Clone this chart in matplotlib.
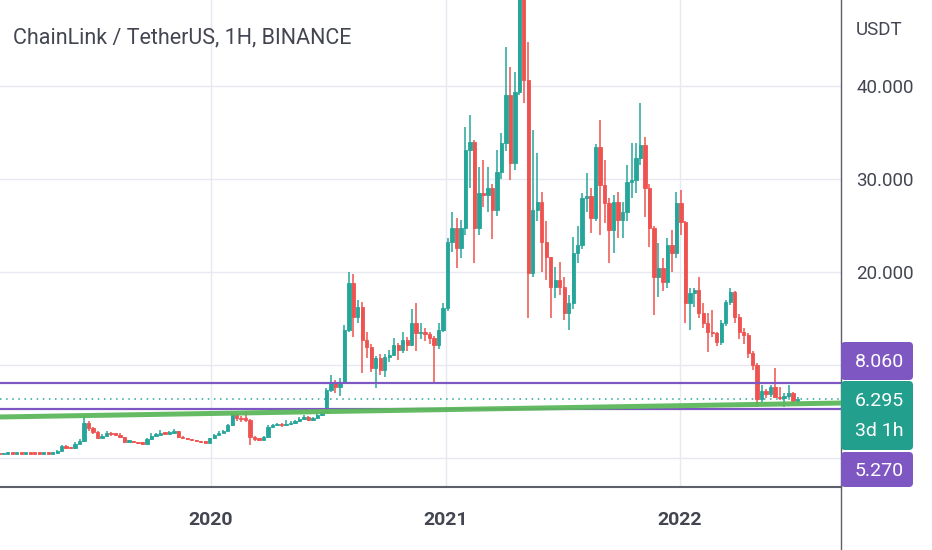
import numpy as np
import pandas as pd
import matplotlib
matplotlib.use("Agg")
import matplotlib.pyplot as plt
import matplotlib.dates as mdates
from matplotlib.patches import FancyBboxPatch
from datetime import datetime

# weekly LINK/USDT candles (open = previous close)
first_open = 0.45
closes = [0.42, 0.46, 0.48, 0.45, 0.49, 0.47, 0.51, 0.48, 0.46, 0.45, 0.48, 0.47,
          0.56, 0.80, 1.25, 1.10, 1.05, 1.55, 1.85, 3.80, 3.20, 2.80, 2.20, 2.40,
          2.70, 2.55, 2.50, 2.25, 1.75, 1.80, 1.68, 1.62, 1.55, 2.00, 2.40, 2.50,
          2.70, 2.62, 2.72, 2.88, 2.30, 2.12, 2.00, 1.92, 1.82, 1.72, 1.66, 2.10,
          2.50, 2.70, 2.90, 3.50, 4.75, 4.30, 4.20, 4.10, 2.25, 2.00, 1.95, 2.25,
          3.30, 3.50, 3.62, 3.50, 3.65, 3.75, 3.95, 4.20, 4.40, 4.10, 4.30, 4.65,
          4.90, 7.30, 8.10, 7.60, 8.20, 13.8, 18.8, 15.2, 16.2, 12.7, 11.9, 9.7,
          10.7, 9.5, 10.9, 11.1, 12.2, 11.6, 12.7, 12.2, 14.5, 13.4, 13.6, 13.3,
          12.9, 12.2, 13.8, 16.1, 23.2, 24.7, 22.6, 24.7, 33.1, 34.0, 24.7, 28.5,
          28.3, 29.0, 26.7, 30.8, 33.9, 39.0, 31.7, 39.4, 50.5, 40.6, 19.9, 26.7,
          27.5, 23.2, 21.6, 18.4, 19.1, 18.4, 15.6, 16.7, 22.0, 22.9, 28.0, 28.2,
          25.8, 33.4, 29.4, 27.4, 24.5, 27.5, 25.6, 26.5, 29.7, 29.9, 32.3, 33.7,
          29.0, 24.7, 19.5, 20.4, 18.9, 22.9, 22.0, 27.4, 25.4, 16.7, 17.7, 18.1,
          15.6, 14.5, 13.6, 13.4, 12.5, 14.5, 16.8, 17.8, 15.2, 13.5, 13.2, 11.3,
          10.0, 6.3, 7.2, 6.9, 7.6, 6.6, 6.4, 6.7, 7.0, 6.1, 6.295]
highs = [0.48, 0.50, 0.53, 0.50, 0.53, 0.52, 0.55, 0.53, 0.50, 0.49, 0.52, 0.52,
         0.62, 0.90, 1.45, 1.35, 1.20, 1.70, 2.00, 4.50, 4.00, 3.30, 2.90, 2.55,
         2.90, 2.75, 2.65, 2.70, 2.30, 1.90, 1.85, 1.75, 1.75, 2.10, 2.70, 2.65,
         3.00, 2.80, 2.85, 3.10, 2.90, 2.35, 2.18, 2.05, 1.98, 1.88, 1.80, 2.20,
         2.60, 2.85, 3.05, 3.70, 4.95, 4.80, 4.55, 4.90, 4.20, 2.40, 2.20, 2.40,
         3.50, 3.70, 3.80, 3.75, 4.10, 3.95, 4.10, 4.40, 4.60, 4.50, 4.45, 4.80,
         5.10, 7.55, 8.90, 8.40, 8.60, 14.3, 20.0, 19.8, 17.0, 16.8, 13.5, 12.3,
         11.0, 11.2, 11.2, 11.6, 12.9, 12.4, 13.5, 13.0, 16.0, 16.7, 14.5, 14.0,
         13.6, 13.1, 14.5, 16.7, 23.7, 26.5, 25.8, 25.6, 35.6, 36.9, 34.2, 31.3,
         32.0, 31.3, 29.5, 33.1, 35.0, 44.2, 42.0, 41.5, 53.0, 52.5, 44.7, 35.3,
         32.8, 28.6, 25.5, 21.6, 20.5, 21.1, 19.5, 17.5, 23.8, 25.0, 28.5, 30.6,
         29.0, 33.8, 36.3, 32.0, 28.0, 28.3, 28.6, 27.5, 31.5, 33.9, 33.9, 38.2,
         34.5, 29.5, 25.0, 23.1, 21.5, 23.7, 24.5, 28.6, 28.8, 25.5, 18.3, 18.3,
         19.5, 16.7, 15.6, 15.9, 13.6, 14.8, 17.0, 18.3, 18.0, 15.5, 14.0, 13.4,
         11.5, 10.2, 7.9, 7.4, 7.9, 9.7, 7.6, 7.0, 7.8, 7.1, 6.6]
lows = [0.40, 0.41, 0.44, 0.43, 0.44, 0.44, 0.46, 0.45, 0.43, 0.42, 0.44, 0.44,
        0.45, 0.54, 0.78, 1.00, 0.95, 1.00, 1.50, 1.75, 2.90, 2.60, 2.00, 2.10,
        2.30, 2.40, 2.35, 2.10, 1.65, 1.65, 1.58, 1.52, 1.40, 1.50, 1.95, 2.30,
        2.45, 2.50, 2.55, 2.65, 2.20, 2.00, 1.90, 1.82, 1.72, 1.65, 1.58, 1.62,
        2.05, 2.45, 2.65, 2.85, 3.40, 3.95, 3.90, 3.85, 1.40, 1.80, 1.80, 1.90,
        2.20, 3.20, 3.40, 3.35, 3.45, 3.55, 3.70, 3.90, 4.10, 3.95, 4.00, 4.25,
        4.55, 4.85, 7.10, 7.00, 6.70, 8.00, 13.5, 13.0, 14.5, 9.1, 10.8, 9.2,
        7.5, 8.9, 8.7, 10.3, 11.0, 10.5, 11.3, 11.5, 12.0, 11.5, 12.8, 12.6,
        12.3, 8.1, 11.7, 13.5, 15.8, 22.2, 20.4, 21.5, 24.0, 29.0, 21.0, 24.0,
        27.0, 26.5, 23.6, 26.0, 30.0, 33.0, 29.9, 31.0, 39.0, 38.2, 15.1, 19.5,
        25.5, 20.0, 19.1, 15.1, 17.2, 17.5, 14.8, 13.8, 16.0, 21.0, 22.5, 26.5,
        24.2, 25.5, 24.0, 25.3, 21.0, 22.0, 23.7, 23.7, 25.5, 28.0, 28.5, 31.5,
        25.9, 22.7, 15.4, 17.3, 18.0, 18.3, 20.0, 21.5, 24.0, 14.5, 13.8, 16.2,
        15.0, 14.0, 11.4, 13.0, 12.0, 12.2, 14.2, 16.5, 14.5, 12.8, 12.3, 10.8,
        9.5, 5.5, 6.0, 6.5, 6.6, 6.4, 6.2, 5.5, 6.5, 6.0, 5.9]

level_high = 8.060
level_low = 5.270
last_price = 6.295
countdown = "3d 1h"
trend_dates = ["2019-02-06", "2022-09-10"]
trend_prices = [4.41, 5.91]
year_labels = ["2020", "2021", "2022"]
price_ticks = [0, 10, 20, 30, 40]
price_labels = ["", "", "20.000", "30.000", "40.000"]

opens = [first_open] + closes[:-1]
dates = pd.date_range("2019-02-04", periods=len(closes), freq="7D")
x = mdates.date2num(dates.to_pydatetime())

GREEN = "#26A69A"
RED = "#EF5350"
PURPLE = "#7E57C2"
TEXT = "#434651"

plt.rcParams["font.family"] = ["Roboto", "DejaVu Sans"]

W, H = 932, 550
fig = plt.figure(figsize=(W / 100, H / 100), dpi=100)
ax = fig.add_axes([0, (H - 487) / H, 841 / W, 487 / H])

o = np.array(opens)
c = np.array(closes)
up = c >= o
cols = np.where(up, GREEN, RED)
bottom = np.minimum(o, c)
height = np.maximum(np.abs(c - o), 0.15)

ax.vlines(x, lows, highs, colors=cols, linewidth=1.1, zorder=3)
ax.bar(x, height, bottom=bottom, width=5.2, color=cols, edgecolor=cols,
       linewidth=0.6, zorder=4)

# horizontal levels, trend line and last price
ax.axhline(level_high, color=PURPLE, linewidth=1.6, zorder=5)
ax.axhline(level_low, color=PURPLE, linewidth=1.6, zorder=5)
t = mdates.date2num([datetime.fromisoformat(d) for d in trend_dates])
ax.axline((t[0], trend_prices[0]), (t[1], trend_prices[1]),
          color="#5DB85C", linewidth=3.6, alpha=0.95, zorder=6)
ax.axhline(last_price, color=GREEN, linewidth=1.1, linestyle=(0, (1, 3)), zorder=2)

d0 = mdates.date2num(datetime(2020, 1, 1))
ax.set_xlim(d0 - 329.2, d0 + 982.8)
ax.set_ylim(-3.12, 49.25)

ax.set_xticks(mdates.date2num([datetime(int(y), 1, 1) for y in year_labels]))
ax.set_xticklabels(year_labels, fontsize=14, fontweight="bold", color=TEXT)
ax.set_yticks(price_ticks)
ax.set_yticklabels(price_labels, fontsize=13.5, color=TEXT)
ax.yaxis.tick_right()
ax.tick_params(axis="both", length=0)
ax.tick_params(axis="x", pad=17)
ax.tick_params(axis="y", pad=11)
ax.grid(True, color="#E6EAF0", linewidth=1.0, zorder=0)
ax.set_axisbelow(True)

for s in ["top", "left"]:
    ax.spines[s].set_visible(False)
ax.spines["right"].set_color("#5d606b")
ax.spines["right"].set_linewidth(1.0)
ax.spines["bottom"].set_color("#5d606b")
ax.spines["bottom"].set_linewidth(1.5)

# right axis continues down through the date strip
fig.add_artist(plt.Line2D([841 / W, 841 / W], [0, (H - 487) / H],
                          transform=fig.transFigure, color="#5d606b", linewidth=1.0))

fig.text(13 / W, 1 - 38 / H, "ChainLink / TetherUS, 1H, BINANCE",
         fontsize=15.5, color=TEXT, va="center", ha="left")
fig.text(856 / W, 1 - 30 / H, "USDT", fontsize=13.5, color=TEXT,
         va="center", ha="left")


def price_box(top, bottom_, color, lines):
    box = FancyBboxPatch((841 / 100, (H - bottom_) / 100), 72 / 100, (bottom_ - top) / 100,
                         boxstyle="round,pad=0,rounding_size=0.04",
                         transform=fig.dpi_scale_trans, facecolor=color,
                         edgecolor="none", zorder=10)
    fig.add_artist(box)
    for label, yc in lines:
        fig.text(879 / W, 1 - yc / H, label, fontsize=14, color="white",
                 ha="center", va="center", zorder=11)


price_box(342, 380, PURPLE, [(f"{level_high:.3f}", 362)])
price_box(381, 450, "#22A08D", [(f"{last_price:.3f}", 401), (countdown, 431)])
price_box(452, 487, PURPLE, [(f"{level_low:.3f}", 471)])

fig.savefig("out.png", dpi=100)
